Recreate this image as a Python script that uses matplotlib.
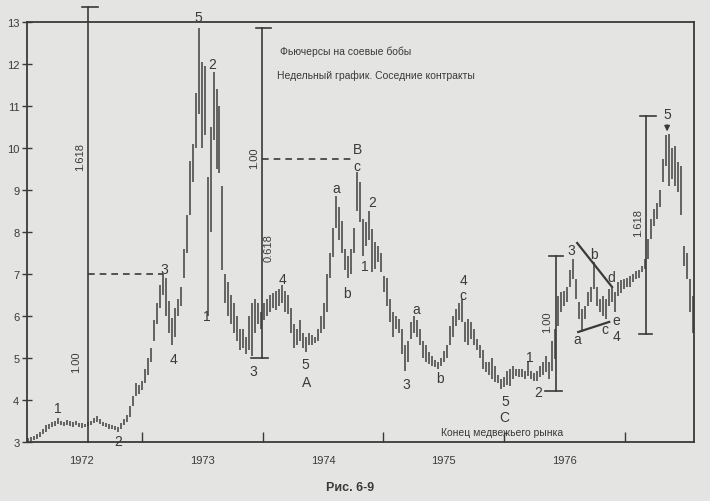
import matplotlib
matplotlib.use('Agg')
import matplotlib.pyplot as plt

plt.rcParams['font.family'] = ['Liberation Sans', 'DejaVu Sans']

PAPER = '#e4e4e2'
INK = '#3a3a3a'

# ---------------- data ----------------
year_labels = ['1972', '1973', '1974', '1975', '1976']
year_centers = [1972.5, 1973.5, 1974.5, 1975.5, 1976.5]
year_bounds = [1973, 1974, 1975, 1976, 1977]
price_ticks = [3, 4, 5, 6, 7, 8, 9, 10, 11, 12, 13]

bar_start = 1972.05      # time of the first bar (years)
bar_step = 0.02486       # time between bars (years)

highs = [
    3.10, 3.12, 3.15, 3.20, 3.25, 3.32, 3.40, 3.42, 3.48, 3.50,
    3.56, 3.50, 3.48, 3.52, 3.50, 3.48, 3.50, 3.46, 3.45, 3.44,
    3.48, 3.50, 3.58, 3.62, 3.55, 3.48, 3.45, 3.42, 3.40, 3.38,
    3.35,
    3.45, 3.55, 3.65, 3.85, 4.10, 4.40, 4.35, 4.45, 4.75, 5.00,
    5.25, 5.90, 6.30, 6.75, 7.00, 6.90, 6.35, 5.95, 6.20, 6.40,
    6.70, 7.60, 8.40, 9.70, 10.10, 11.30, 12.85, 12.05, 11.95, 9.30,
    10.50, 11.80, 11.40, 11.00, 9.10, 7.00, 6.80, 6.50, 6.30, 6.00,
    5.70, 5.70, 5.50, 6.00, 6.30, 6.40, 6.30, 6.10, 6.30, 6.40,
    6.50, 6.55, 6.60, 6.65, 6.75, 6.60, 6.50, 6.20, 5.80, 5.70,
    5.90, 5.60, 5.50, 5.60, 5.55, 5.50, 5.70, 6.00, 6.30, 7.00,
    7.50, 8.10, 8.86, 8.60, 8.26, 7.60, 7.43, 7.60, 8.10, 9.43,
    9.20, 8.30, 8.24, 8.50, 8.07, 7.76, 7.67, 7.50, 6.95, 6.90,
    6.40, 6.10, 6.00, 5.93, 5.70, 5.30, 5.40, 5.86, 6.00, 5.90,
    5.70, 5.40, 5.30, 5.15, 5.05, 4.95, 4.90, 5.00, 5.17, 5.30,
    5.76, 6.00, 6.17, 6.30, 6.40, 5.86, 5.93, 5.86, 5.70, 5.45,
    5.30, 5.20, 4.90, 4.90, 5.00, 4.80, 4.60, 4.50, 4.55, 4.70,
    4.74, 4.80, 4.74, 4.75, 4.73, 4.70, 4.93, 4.70, 4.65, 4.70,
    4.80, 4.90, 5.05, 4.90, 5.40, 5.70, 6.48, 6.57, 6.60, 6.70,
    7.10, 7.36, 6.88, 6.33, 6.17, 6.24, 6.57, 6.70, 7.29, 6.70,
    6.40, 6.48, 6.40, 6.64, 6.67, 6.57, 6.80, 6.85, 6.88, 6.90,
    6.95, 7.00, 7.07, 7.10, 7.19, 7.36, 7.83, 8.30, 8.55, 8.70,
    9.00, 9.74, 10.30, 10.33, 10.00, 10.05, 9.67, 9.57, 7.67, 7.50,
    6.88, 6.48,
]
lows = [
    3.00, 3.02, 3.05, 3.08, 3.12, 3.18, 3.25, 3.30, 3.35, 3.38,
    3.42, 3.40, 3.38, 3.40, 3.38, 3.36, 3.40, 3.35, 3.33, 3.35,
    3.38, 3.40, 3.45, 3.48, 3.42, 3.38, 3.35, 3.32, 3.30, 3.28,
    3.25,
    3.32, 3.40, 3.48, 3.60, 3.85, 4.10, 4.15, 4.25, 4.40, 4.60,
    4.90, 5.40, 5.80, 6.20, 6.50, 6.00, 5.60, 5.30, 5.50, 6.00,
    6.25, 6.90, 7.50, 8.40, 9.20, 10.00, 10.80, 10.00, 10.30, 6.00,
    8.00, 10.20, 9.50, 9.40, 7.10, 6.30, 6.00, 5.80, 5.60, 5.40,
    5.20, 5.25, 5.10, 5.20, 5.05, 5.60, 5.80, 5.70, 5.90, 6.00,
    6.10, 6.20, 6.15, 6.25, 6.30, 6.10, 6.05, 5.60, 5.25, 5.30,
    5.40, 5.25, 5.15, 5.30, 5.30, 5.35, 5.40, 5.60, 5.70, 6.10,
    6.90, 7.40, 8.10, 7.80, 7.50, 7.10, 6.90, 7.00, 7.50, 8.50,
    8.24, 7.43, 7.67, 7.80, 7.05, 7.12, 7.29, 7.05, 6.57, 6.24,
    5.86, 5.50, 5.70, 5.60, 5.10, 4.70, 4.90, 5.45, 5.60, 5.50,
    5.30, 5.00, 4.90, 4.85, 4.80, 4.78, 4.75, 4.80, 4.90, 5.00,
    5.30, 5.50, 5.76, 5.90, 5.86, 5.38, 5.30, 5.45, 5.30, 5.20,
    5.00, 4.74, 4.67, 4.60, 4.50, 4.43, 4.40, 4.26, 4.30, 4.35,
    4.33, 4.50, 4.57, 4.55, 4.55, 4.50, 4.57, 4.50, 4.45, 4.45,
    4.55, 4.60, 4.67, 4.50, 4.70, 4.98, 5.76, 6.10, 6.24, 6.33,
    6.70, 6.88, 6.40, 5.93, 5.62, 5.93, 6.24, 6.33, 6.64, 6.24,
    6.10, 6.00, 5.93, 6.24, 6.33, 6.10, 6.48, 6.55, 6.64, 6.70,
    6.70, 6.80, 6.88, 6.90, 7.05, 7.12, 7.36, 7.83, 8.14, 8.30,
    8.60, 9.20, 9.57, 9.10, 9.26, 9.10, 8.95, 8.40, 7.19, 6.88,
    6.10, 5.60,
]

# Elliott wave labels: (text, time, price)
wave_labels = [
    ('1', 1972.298, 3.81), ('2', 1972.804, 3.02), ('3', 1973.185, 7.12),
    ('4', 1973.259, 4.98), ('5', 1973.466, 13.12), ('2', 1973.582, 12.0),
    ('1', 1973.533, 6.0), ('3', 1973.922, 4.69), ('4', 1974.162, 6.88),
    ('5', 1974.353, 4.86), ('A', 1974.361, 4.43), ('a', 1974.610, 9.05),
    ('b', 1974.701, 6.55), ('B', 1974.784, 9.97), ('c', 1974.784, 9.57),
    ('2', 1974.908, 8.71), ('1', 1974.842, 7.19), ('3', 1975.190, 4.38),
    ('a', 1975.273, 6.17), ('b', 1975.471, 4.52), ('4', 1975.662, 6.86),
    ('c', 1975.662, 6.50), ('5', 1976.010, 3.98), ('C', 1976.002, 3.60),
    ('1', 1976.217, 5.02), ('2', 1976.283, 4.19), ('3', 1976.557, 7.57),
    ('a', 1976.606, 5.45), ('b', 1976.747, 7.48), ('c', 1976.838, 5.69),
    ('d', 1976.888, 6.93), ('e', 1976.929, 5.90), ('4', 1976.929, 5.52),
    ('5', 1977.352, 10.80),
]

# Fibonacci measuring lines: (time, price_low, price_high)
fib_lines = [
    (1972.547, 3.00, 13.36),
    (1973.997, 5.00, 12.86),
    (1976.432, 4.21, 7.43),
    (1977.178, 5.57, 10.76),
]
# caps: (price, t_from, t_to)
fib_caps = [
    (13.36, 1972.497, 1972.630),
    (12.86, 1973.947, 1974.071),
    (5.00, 1973.906, 1974.046),
    (7.43, 1976.374, 1976.490),
    (4.21, 1976.341, 1976.482),
    (10.76, 1977.128, 1977.261),
    (5.57, 1977.120, 1977.228),
]
fib_texts = [
    ('1.618', 1972.489, 9.81), ('1.00', 1972.456, 4.93),
    ('1.00', 1973.930, 9.79), ('0.618', 1974.046, 7.64),
    ('1.00', 1976.358, 5.88), ('1.618', 1977.112, 8.24),
]
# dashed projection levels: (price, t_from, t_to)
dashed_levels = [
    (7.00, 1972.547, 1973.176),
    (9.74, 1973.997, 1974.767),
]
# triangle boundaries: ((t1, p1), (t2, p2))
triangle = [
    ((1976.606, 7.74), (1976.896, 6.69)),
    ((1976.615, 5.62), (1976.872, 5.86)),
]

# ---------------- figure ----------------
fig = plt.figure(figsize=(7.1, 5.02), dpi=100, facecolor=PAPER)
ax = fig.add_axes([0.038, 0.1175, 0.9395, 0.8365], facecolor=PAPER)

times = [bar_start + bar_step * i for i in range(len(highs))]
ax.vlines(times, lows, highs, color='#404040', linewidth=1.1)

ax.set_xlim(1972.045, 1977.575)
ax.set_ylim(3, 13)

for s in ax.spines.values():
    s.set_color(INK)
    s.set_linewidth(1.3)

ax.set_yticks(price_ticks)
ax.set_yticklabels([str(v) for v in price_ticks])
ax.tick_params(axis='y', direction='inout', length=7, width=1.0,
               color=INK, labelcolor=INK, labelsize=8, pad=2)

ax.set_xticks(year_bounds)
ax.set_xticklabels([''] * len(year_bounds))
ax.tick_params(axis='x', which='major', direction='in', length=7,
               width=1.0, color=INK)
ax.set_xticks(year_centers, minor=True)
ax.set_xticklabels(year_labels, minor=True)
ax.tick_params(axis='x', which='minor', length=0, labelsize=8,
               labelcolor=INK, pad=9)

# Fibonacci lines
for t, p0, p1 in fib_lines:
    ax.plot([t, t], [p0, p1], color=INK, lw=1.2, clip_on=False)
for p, t0, t1 in fib_caps:
    ax.plot([t0, t1], [p, p], color=INK, lw=1.2, clip_on=False)
for txt, t, p in fib_texts:
    ax.text(t, p, txt, rotation=90, ha='center', va='center',
            fontsize=8, color=INK)
for p, t0, t1 in dashed_levels:
    ax.plot([t0, t1], [p, p], color=INK, lw=1.2, ls=(0, (4, 3)))
for (t0, p0), (t1, p1) in triangle:
    ax.plot([t0, t1], [p0, p1], color=INK, lw=1.6)

# wave labels
for txt, t, p in wave_labels:
    ax.text(t, p, txt, ha='center', va='center', fontsize=10,
            color=INK, clip_on=False)

# arrow at final top
ax.annotate('', xy=(1977.352, 10.33), xytext=(1977.352, 10.62),
            arrowprops=dict(arrowstyle='-|>', color=INK, lw=1.0,
                            mutation_scale=8))

# titles
ax.text(1974.146, 12.31, 'Фьючерсы на соевые бобы', ha='left', va='center',
        fontsize=7.5, color=INK)
ax.text(1974.121, 11.74, 'Недельный график. Соседние контракты', ha='left',
        va='center', fontsize=7.5, color=INK)
ax.text(1975.985, 3.24, 'Конец медвежьего рынка', ha='center', va='center',
        fontsize=7.5, color=INK)

fig.text(0.493, 0.028, 'Рис. 6-9', ha='center', va='center', fontsize=9,
         fontweight='bold', color=INK)

fig.savefig('out.png', dpi=100, facecolor=PAPER)
